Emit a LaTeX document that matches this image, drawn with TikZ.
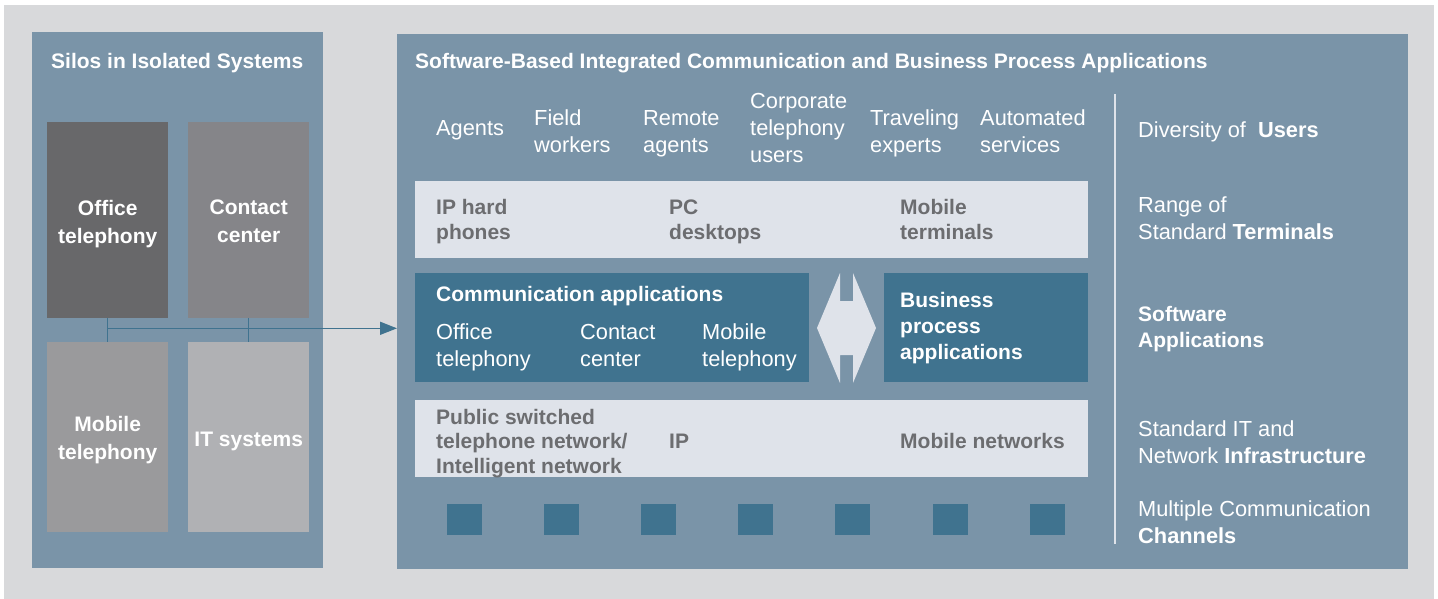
\documentclass[tikz,border=0pt]{standalone}
\usepackage{fontspec}
\setmainfont{Liberation Sans}
\usetikzlibrary{arrows.meta,calc}
\definecolor{outerbg}{HTML}{D8D9DB}
\definecolor{panel}{HTML}{7A94A8}
\definecolor{silodark}{HTML}{68686A}
\definecolor{silomid}{HTML}{858589}
\definecolor{silolight}{HTML}{9A9A9C}
\definecolor{silopale}{HTML}{B0B1B4}
\definecolor{teal}{HTML}{40738F}
\definecolor{bar}{HTML}{DFE3EA}
\definecolor{bartext}{HTML}{6C6D70}
\newcommand{\mylines}[1]{\begin{tabular}[t]{@{}l@{}}#1\end{tabular}}
\begin{document}
\begin{tikzpicture}[x=1pt,y=-1pt,
  rbox/.style={rectangle,draw=none,inner sep=0pt,anchor=north west},
  reg/.style={font=\fontsize{21.8}{27}\selectfont,text=white,inner sep=0pt,anchor=base west},
  bld/.style={font=\fontsize{21}{26}\selectfont\bfseries,text=white,inner sep=0pt,anchor=base west},
  grey/.style={font=\fontsize{21}{25}\selectfont\bfseries,text=bartext,inner sep=0pt,anchor=base west},
  ttl/.style={font=\fontsize{21}{27}\selectfont\bfseries,text=white,inner sep=0pt,anchor=base west},
  silo/.style={rectangle,draw=none,inner sep=0pt,anchor=north west,minimum width=121pt},
  silotext/.style={text=white,align=center,inner sep=0pt,font=\fontsize{21}{28}\selectfont\bfseries},
  conn/.style={draw=teal,line width=1.5pt},
  chan/.style={rectangle,fill=teal,draw=none,inner sep=0pt,anchor=north west,minimum width=35pt,minimum height=31pt}
]
\useasboundingbox (0,0) rectangle (1438,599);
\fill[white] (0,0) rectangle (1438,599);
\fill[outerbg] (4,5) rectangle (1434,599);
% left panel
\node[rbox,fill=panel,minimum width=291pt,minimum height=536pt] (left) at (32,32) {};
\node[ttl] (lefttitle) at (51,69) {Silos in Isolated Systems};
\node[silo,fill=silodark,minimum height=196pt] (office) at (47,122) {};
\node[silo,fill=silomid,minimum height=196pt] (contact) at (188,122) {};
\node[silo,fill=silolight,minimum height=190pt] (mobile) at (47,342) {};
\node[silo,fill=silopale,minimum height=190pt] (itsys) at (188,342) {};
\node[silotext] (officetext) at ([yshift=-4pt]office.center) {Office\\telephony};
\node[silotext] (contacttext) at ([yshift=-1pt]contact.center) {Contact\\center};
\node[silotext] (mobiletext) at ([yshift=-3pt]mobile.center) {Mobile\\telephony};
\node[silotext] (ittext) at ([yshift=-4pt]itsys.center) {IT systems};
% right panel
\node[rbox,fill=panel,minimum width=1011pt,minimum height=535pt] (right) at (397,34) {};
\node[ttl] (righttitle) at (415,69) {Software-Based Integrated Communication and Business Process Applications};
% connectors
\coordinate (j1) at ($(office.south)!0.42!(mobile.north)$);
\draw[conn] (office.south) -- (mobile.north);
\draw[conn] (contact.south) -- (itsys.north);
\draw[conn,-{Triangle[length=17pt,width=13pt]}] (j1) -- (j1 -| right.west);
% users row
\node[reg] (u1) at (436,136) {Agents};
\node[reg] (u2) at (534,126) {\mylines{Field\\workers}};
\node[reg] (u3) at (643,126) {\mylines{Remote\\agents}};
\node[reg] (u4) at (750,109) {\mylines{Corporate\\telephony\\users}};
\node[reg] (u5) at (870,126) {\mylines{Traveling\\experts}};
\node[reg] (u6) at (980,126) {\mylines{Automated\\services}};
% terminals bar
\node[rbox,fill=bar,minimum width=673pt,minimum height=77pt] (bar1) at (415,181) {};
\node[grey] (t1) at (436,214) {\mylines{IP hard\\phones}};
\node[grey] (t2) at (669,214) {\mylines{PC\\desktops}};
\node[grey] (t3) at (900,214) {\mylines{Mobile\\terminals}};
% applications
\node[rbox,fill=teal,minimum width=394pt,minimum height=109pt] (comm) at (415,273) {};
\node[bld] (commtitle) at (436,301) {Communication applications};
\node[reg] (a1) at (436,339) {\mylines{Office\\telephony}};
\node[reg] (a2) at (580,339) {\mylines{Contact\\center}};
\node[reg] (a3) at (702,339) {\mylines{Mobile\\telephony}};
\node[rbox,fill=teal,minimum width=204pt,minimum height=109pt] (bpa) at (884,273) {};
\node[bld] (bpatext) at (900,307) {\mylines{Business\\process\\applications}};
\fill[bar] (817,328) -- (840,273) -- (840,301) -- (853,301) -- (853,273) -- (876,328)
  -- (853,383) -- (853,355) -- (840,355) -- (840,383) -- cycle;
% infrastructure bar
\node[rbox,fill=bar,minimum width=673pt,minimum height=77pt] (bar2) at (415,400) {};
\node[grey,font=\fontsize{21}{24.5}\selectfont\bfseries] (n1) at (436,424) {\mylines{Public switched\\telephone network/\\Intelligent network}};
\node[grey] (n2) at (669,448) {IP};
\node[grey] (n3) at (900,448) {Mobile networks};
% channels
\foreach \i/\xx in {1/447,2/544,3/641,4/738,5/835,6/933,7/1030}{
  \node[chan] (ch\i) at (\xx,504) {};
}
% separator and right labels
\draw[draw=bar,line width=1.5pt] (1115,94) -- (1115,544);
\node[reg] (l1) at (1138,138) {Diversity of \ \textbf{Users}};
\node[reg] (l2) at (1138,212) {\mylines{Range of\\Standard \textbf{Terminals}}};
\node[bld,font=\fontsize{21}{26.5}\selectfont\bfseries] (l3) at (1138,321) {\mylines{Software\\Applications}};
\node[reg] (l4) at (1138,436) {\mylines{Standard IT and\\Network \textbf{Infrastructure}}};
\node[reg] (l5) at (1138,516) {\mylines{Multiple Communication\\\textbf{Channels}}};
\end{tikzpicture}
\end{document}
